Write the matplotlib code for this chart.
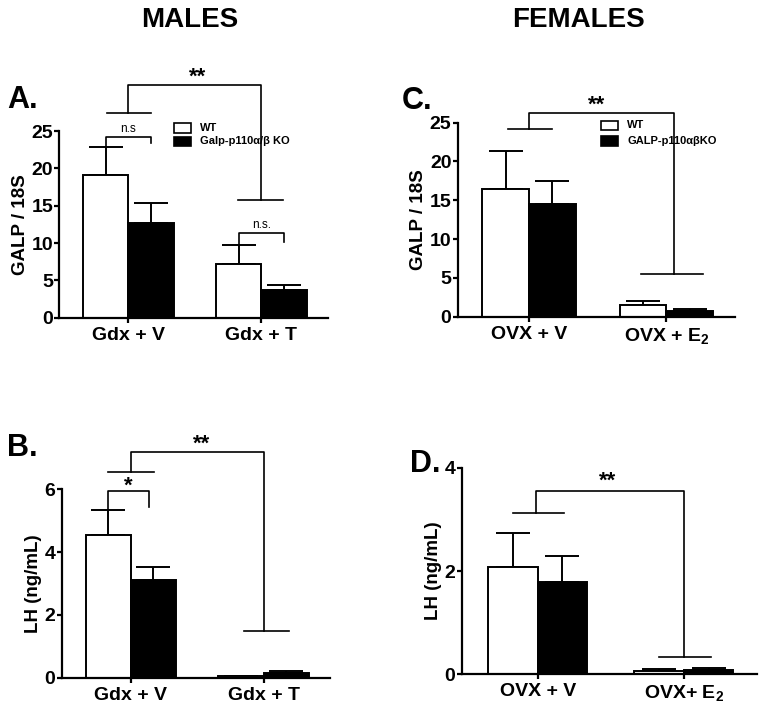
import matplotlib
matplotlib.use("Agg")
import matplotlib.pyplot as plt
from matplotlib.patches import Rectangle
import numpy as np

plt.rcParams['font.family'] = ['Liberation Sans', 'DejaVu Sans']
plt.rcParams['font.weight'] = 'bold'
plt.rcParams['mathtext.default'] = 'regular'

W, H = 764, 713

# panel A - males GALP
a_groups = ['Gdx + V', 'Gdx + T']
a_wt = [19.1, 7.2]
a_wt_err = [3.7, 2.6]
a_ko = [12.7, 3.7]
a_ko_err = [2.6, 0.7]

# panel B - males LH
b_groups = ['Gdx + V', 'Gdx + T']
b_wt = [4.55, 0.04]
b_wt_err = [0.79, 0.02]
b_ko = [3.11, 0.14]
b_ko_err = [0.43, 0.08]

# panel C - females GALP
c_groups = ['OVX + V', 'OVX + E$_2$']
c_wt = [16.4, 1.5]
c_wt_err = [4.9, 0.5]
c_ko = [14.5, 0.73]
c_ko_err = [3.0, 0.22]

# panel D - females LH
d_groups = ['OVX + V', 'OVX+ E$_2$']
d_wt = [2.08, 0.07]
d_wt_err = [0.65, 0.03]
d_ko = [1.79, 0.08]
d_ko_err = [0.50, 0.05]

fig = plt.figure(figsize=(W / 100, H / 100), dpi=100)


def px_axes(x0, x1, ytop, ybot):
    return fig.add_axes([x0 / W, 1 - ybot / H, (x1 - x0) / W, (ybot - ytop) / H])


def panel(ax, groups, wt, wt_err, ko, ko_err, ymax, yticks, ylabel):
    x = np.arange(len(groups))
    w = 0.34
    ax.bar(x - w / 2, wt, w, color='white', edgecolor='black', linewidth=1.4, zorder=2)
    ax.bar(x + w / 2, ko, w, color='black', edgecolor='black', linewidth=1.4, zorder=2)
    ax.errorbar(x - w / 2, wt, yerr=[np.zeros(len(wt)), wt_err], fmt='none',
                ecolor='black', elinewidth=1.4, capsize=12, capthick=1.4, zorder=1)
    ax.errorbar(x + w / 2, ko, yerr=[np.zeros(len(ko)), ko_err], fmt='none',
                ecolor='black', elinewidth=1.4, capsize=12, capthick=1.4, zorder=1)
    ax.set_xlim(-0.52, 1.5)
    ax.set_ylim(0, ymax)
    ax.set_xticks(x)
    ax.set_xticklabels(groups, fontsize=14, fontweight='bold')
    ax.set_yticks(yticks)
    ax.set_yticklabels([str(t) for t in yticks], fontsize=14, fontweight='bold')
    ax.set_ylabel(ylabel, fontsize=13.5, fontweight='bold', labelpad=2)
    for s in ['top', 'right']:
        ax.spines[s].set_visible(False)
    for s in ['left', 'bottom']:
        ax.spines[s].set_linewidth(1.6)
    ax.tick_params(width=1.6, length=3.5, pad=1)
    ax.tick_params(axis='x', pad=3)


def line(ax, xs, ys):
    ax.plot(xs, ys, color='black', lw=1.2, clip_on=False, zorder=3)


def group_bracket(ax, y_low, y_top, y_right, left, right, xc0=0.0, xc1=1.0):
    line(ax, left, [y_low, y_low])
    line(ax, [xc0, xc0, xc1, xc1], [y_low, y_top, y_top, y_right])
    line(ax, right, [y_right, y_right])


def pair_bracket(ax, x0, x1, y, yl, yr, label, size, dy):
    line(ax, [x0, x0, x1, x1], [yl, y, y, yr])
    ax.text((x0 + x1) / 2, y + dy, label, ha='center', va='bottom', fontsize=size,
            fontweight='normal' if size < 12 else 'bold')


# A
axA = px_axes(59.3, 328, 131, 317.7)
panel(axA, a_groups, a_wt, a_wt_err, a_ko, a_ko_err, 25, [0, 5, 10, 15, 20, 25], 'GALP / 18S')
group_bracket(axA, 27.4, 31.2, 15.7, [-0.165, 0.173], [0.82, 1.165])
axA.text(0.52, 32.2, '**', ha='center', va='center', fontsize=16, fontweight='bold')
pair_bracket(axA, -0.17, 0.17, 24.2, 22.8, 23.4, 'n.s', 8.5, 0.2)
pair_bracket(axA, 0.83, 1.17, 11.4, 9.8, 10.2, 'n.s.', 8.5, 0.2)

# C
axC = px_axes(457.7, 735, 122.7, 316.7)
panel(axC, c_groups, c_wt, c_wt_err, c_ko, c_ko_err, 25, [0, 5, 10, 15, 20, 25], 'GALP / 18S')
group_bracket(axC, 24.2, 26.3, 5.5, [-0.155, 0.17], [0.814, 1.265], 0.0, 1.058)
axC.text(0.495, 27.3, '**', ha='center', va='center', fontsize=16, fontweight='bold')

# B
axB = px_axes(61.7, 330, 489.3, 677.7)
panel(axB, b_groups, b_wt, b_wt_err, b_ko, b_ko_err, 6, [0, 2, 4, 6], 'LH (ng/mL)')
group_bracket(axB, 6.56, 7.18, 1.5, [-0.17, 0.175], [0.85, 1.19])
axB.text(0.53, 7.42, '**', ha='center', va='center', fontsize=16, fontweight='bold')
pair_bracket(axB, -0.175, 0.138, 5.96, 5.34, 5.45, '*', 16, -0.2)

# D
axD = px_axes(461.7, 756.7, 467.7, 674.3)
panel(axD, d_groups, d_wt, d_wt_err, d_ko, d_ko_err, 4, [0, 2, 4], 'LH (ng/mL)')
group_bracket(axD, 3.13, 3.55, 0.34, [-0.167, 0.179], [0.83, 1.19], -0.014, 1.004)
axD.text(0.48, 3.73, '**', ha='center', va='center', fontsize=16, fontweight='bold')


def legend(x, y1, y2, labels):
    for yy, fc, lab in zip((y1, y2), ('white', 'black'), labels):
        fig.patches.append(Rectangle((x / W, 1 - (yy + 9) / H), 17 / W, 9 / H,
                                     transform=fig.transFigure, facecolor=fc,
                                     edgecolor='black', linewidth=1.2))
        fig.text((x + 26) / W, 1 - (yy + 4.5) / H, lab, fontsize=8, fontweight='bold',
                 va='center', ha='left')


legend(174, 123.5, 137, ['WT', 'Galp-p110α/β KO'])
legend(601, 121, 136.5, ['WT', 'GALP-p110αβKO'])

fig.text(190 / W, 1 - 20 / H, 'MALES', fontsize=20, fontweight='bold', ha='center', va='center')
fig.text(579 / W, 1 - 20 / H, 'FEMALES', fontsize=20, fontweight='bold', ha='center', va='center')
for lab, xx, yy in [('A.', 7, 100), ('C.', 401.7, 101), ('B.', 7, 447.5), ('D.', 410, 464.5)]:
    fig.text(xx / W, 1 - yy / H, lab, fontsize=22, fontweight='bold', ha='left', va='center')

fig.savefig('out.png', dpi=100)
